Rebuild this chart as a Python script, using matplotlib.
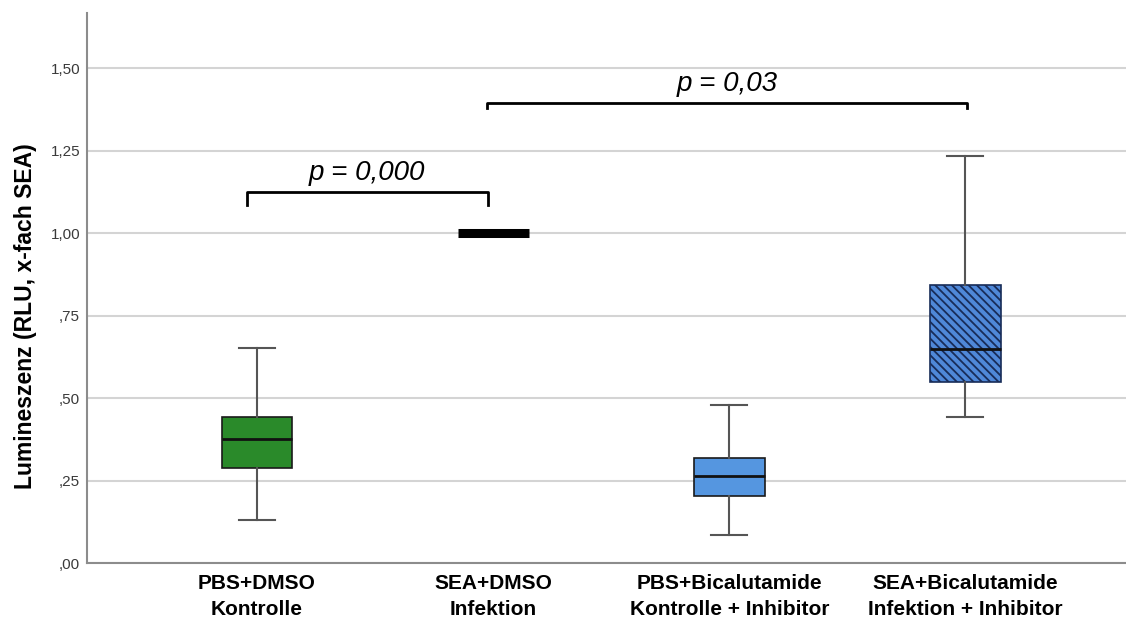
import numpy as np
import matplotlib
matplotlib.use('Agg')
import matplotlib.pyplot as plt

plt.rcParams['font.family'] = ['Liberation Sans', 'DejaVu Sans']
plt.rcParams['hatch.linewidth'] = 1.3

#%% data
groups = ['PBS+DMSO\nKontrolle',
          'SEA+DMSO\nInfektion',
          'PBS+Bicalutamide\nKontrolle + Inhibitor',
          'SEA+Bicalutamide\nInfektion + Inhibitor']
whislo = [0.130, 1.00, 0.085, 0.442]
q1 = [0.287, 1.00, 0.202, 0.549]
med = [0.376, 1.00, 0.265, 0.650]
q3 = [0.442, 1.00, 0.317, 0.843]
whishi = [0.653, 1.00, 0.478, 1.233]

yticks = [0, 0.25, 0.5, 0.75, 1.0, 1.25, 1.5]
ytick_labels = [',00', ',25', ',50', ',75', '1,00', '1,25', '1,50']

# significance brackets
p_labels = ['p = 0,000', 'p = 0,03']
br_x0 = [-0.044, 0.973]
br_x1 = [0.976, 3.007]
br_y = [1.124, 1.394]
br_drop = [0.038, 0.015]

#%% styles
face_colors = ['#2a8a2a', '#000000', '#5596e0', '#4f88d8']
edge_colors = ['#1a1a1a', '#000000', '#1a1a1a', '#182c58']
hatches = [None, None, None, '\\\\\\\\']
ymax = 1.668

#%%
fig = plt.figure(figsize=(11.26, 6.26), dpi=100)
ax = fig.add_axes([0.0773, 0.1006, 0.9227, 0.8786])

stats = [dict(whislo=a, q1=b, med=c, q3=d, whishi=e, fliers=[])
         for a, b, c, d, e in zip(whislo, q1, med, q3, whishi)]
pos = np.arange(len(groups))

bp = ax.bxp(stats, positions=pos, widths=0.30, capwidths=0.153,
            patch_artist=True, showfliers=False,
            boxprops=dict(linewidth=1.2),
            medianprops=dict(color='#111111', linewidth=2),
            whiskerprops=dict(color='#555555', linewidth=1.5),
            capprops=dict(color='#555555', linewidth=1.5))

for box, fc, ec, h in zip(bp['boxes'], face_colors, edge_colors, hatches):
    box.set_facecolor(fc)
    box.set_edgecolor(ec)
    if h:
        box.set_hatch(h)

# SEA+DMSO is normalised to 1 -> only a thick bar
bp['boxes'][1].set_linewidth(0)
bp['medians'][1].set_linewidth(6.5)
bp['medians'][1].set_color('black')
bp['medians'][1].set_solid_capstyle('butt')

#%% brackets
for lab, x0, x1, y, d in zip(p_labels, br_x0, br_x1, br_y, br_drop):
    ax.plot([x0, x0, x1, x1], [y - d, y, y, y - d], color='black', lw=2)
    ax.text((x0 + x1) / 2, y + 0.037, lab, ha='center', va='baseline',
            fontsize=20, style='italic')

#%% axes
ax.set_xlim(-0.72, 3.68)
ax.set_ylim(0, ymax)
ax.set_yticks(yticks)
ax.set_yticklabels(ytick_labels)
ax.set_xticks(pos)
ax.set_xticklabels(groups, fontsize=15, fontweight='bold', linespacing=1.45)

ax.yaxis.grid(True, color='#d4d4d4', linewidth=1.5)
ax.set_axisbelow(True)

ax.spines['top'].set_visible(False)
ax.spines['right'].set_visible(False)
ax.spines['left'].set_color('#8c8c8c')
ax.spines['bottom'].set_color('#8c8c8c')
ax.spines['left'].set_linewidth(1.5)
ax.spines['bottom'].set_linewidth(1.5)

ax.tick_params(axis='y', length=0, pad=5, labelsize=11, labelcolor='#3a3a3a')
ax.tick_params(axis='x', length=0, pad=8)

ax.set_ylabel('Lumineszenz (RLU, x-fach SEA)', fontsize=16.5, fontweight='bold')
ax.yaxis.set_label_coords(-0.048, 0.75 / ymax)

fig.savefig('out.png', dpi=100)
